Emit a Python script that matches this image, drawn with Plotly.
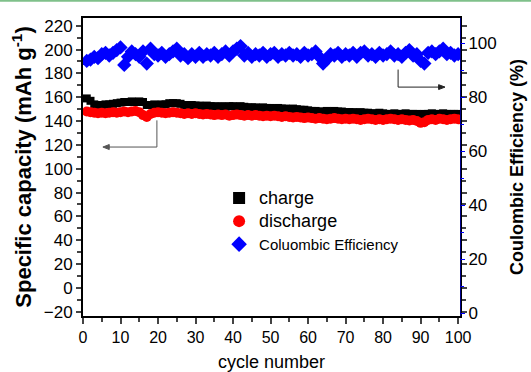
import plotly.graph_objects as go

cycles = list(range(1, 101))

charge = [159, 157, 154, 153.5, 153.5, 154, 154, 154.5, 155, 155.5,
          156, 156, 156.5, 156, 156.5, 156, 153.5, 153.5, 154, 153.5,
          154, 154, 155, 155, 155, 154.5, 153.5, 153, 153.5, 153,
          153, 152.5, 153, 152.5, 152.5, 152, 152.5, 152, 152.5, 152.5,
          152, 152.5, 152, 151.5, 151.5, 151.5, 151, 151.5, 151, 151,
          150.5, 151, 150.5, 150.5, 150, 150.5, 150, 149.5, 149.5, 149,
          148.5, 148.5, 148, 148, 148.5, 148, 148.5, 148, 148, 147.5,
          147.5, 147.5, 147, 147.5, 147, 147, 146.5, 146.5, 147, 146.5,
          146, 146, 146.5, 146, 146, 146.5, 146, 146, 146, 145.5,
          146, 146, 146.5, 146, 146, 146.5, 146, 146, 146, 146]

discharge = [148, 147.5, 147, 146.5, 147, 146.5, 147, 147.5, 147, 147.5,
             148, 147.5, 148, 148.5, 147.5, 145, 143.5, 146, 147, 147.5,
             147, 146.5, 147, 147.5, 147, 146.5, 146, 146.5, 146, 146.5,
             146, 145.5, 146, 145.5, 145, 145.5, 145, 145.5, 144.5, 145,
             145.5, 145, 144.5, 145, 144.5, 145, 144.5, 144, 144.5, 144,
             144.5, 144, 143.5, 144, 143.5, 143, 143.5, 143, 142.5, 143,
             142.5, 142, 142.5, 142, 141.5, 142, 142.5, 142, 141.5, 142,
             141.5, 142, 141.5, 141, 141.5, 142, 141.5, 141, 141.5, 141,
             141.5, 142, 141.5, 141, 141.5, 141, 140.5, 141, 140, 138.5,
             139, 141, 141.5, 141, 142, 141.5, 141, 141.5, 142, 141.5]

efficiency = [93.5, 94, 95, 94.5, 96, 96.5, 95.5, 96.5, 97.5, 98.5,
              92, 95, 97, 96, 95, 97, 92.5, 98, 96, 95.5,
              96.5, 95, 96, 97, 98, 95.5, 96, 94.5, 96, 95,
              96.5, 95, 96, 95.5, 96.5, 95, 96, 97, 95.5, 97,
              98, 99, 95.5, 96.5, 95, 96, 95.5, 96.5, 95, 96,
              96.5, 95, 96, 95.5, 96.5, 95.5, 96, 95, 96.5, 95.5,
              96, 97, 95, 92.5, 94, 96, 95.5, 96.5, 95, 96,
              95.5, 96.5, 95, 96.5, 97, 95.5, 96, 95, 96.5, 95.5,
              96, 97, 95.5, 96, 95, 96.5, 97.5, 95.5, 96, 93.5,
              92.5, 96.5, 97, 96, 97, 98, 96, 96.5, 95.5, 96]

left_ticks = list(range(-20, 221, 20))
right_ticks = list(range(0, 101, 20))
x_ticks = list(range(0, 101, 10))

FONT = "Arial, Liberation Sans, sans-serif"

fig = go.Figure()
fig.add_trace(go.Scatter(x=cycles, y=charge, mode="markers",
                         name="<span style='font-size:18px'>charge</span>",
                         marker=dict(symbol="square", size=8, color="#000000", line=dict(width=0))))
fig.add_trace(go.Scatter(x=cycles, y=discharge, mode="markers",
                         name="<span style='font-size:18px'>discharge</span>",
                         marker=dict(symbol="circle", size=10, color="#ff0000", line=dict(width=0))))
fig.add_trace(go.Scatter(x=cycles, y=efficiency, mode="markers", yaxis="y2",
                         name="<span style='font-size:15px'>Coluombic Efficiency</span>",
                         marker=dict(symbol="diamond", size=11, color="#0000ff", line=dict(width=0))))

fig.update_layout(
    width=531, height=372,
    margin=dict(l=83, r=71, t=18, b=56, autoexpand=False),
    paper_bgcolor="white", plot_bgcolor="white",
    font=dict(family=FONT, color="black"),
    showlegend=True,
    legend=dict(x=0.361, y=0.451, xanchor="left", yanchor="top",
                bgcolor="rgba(0,0,0,0)", font=dict(size=15.4, family=FONT),
                itemsizing="constant", tracegroupgap=0),
    xaxis=dict(range=[0, 100.5], tickvals=x_ticks, ticks="outside", ticklen=6, tickwidth=2,
               showline=True, linecolor="black", linewidth=2, mirror=True,
               showgrid=False, zeroline=False, tickfont=dict(size=16),
               minor=dict(dtick=5, tick0=0, ticks="outside", ticklen=4, tickwidth=2, showgrid=False),
               title=dict(text="cycle number", font=dict(size=18), standoff=14)),
    xaxis2=dict(range=[0, 100.5], overlaying="x", side="top", anchor="y", tickvals=list(range(0, 101, 5)),
                ticks="inside", ticklen=5, tickwidth=2, showticklabels=False, showline=False,
                showgrid=False, zeroline=False),
    yaxis=dict(range=[-23.6, 226.5], tickvals=left_ticks, ticks="outside", ticklen=5, tickwidth=2,
               showline=True, linecolor="black", linewidth=2, mirror="ticks",
               showgrid=False, zeroline=False, tickfont=dict(size=17),
               minor=dict(dtick=10, tick0=0, ticks="outside", ticklen=4, tickwidth=2, showgrid=False),
               title=dict(text="Specific capacity (mAh g<sup>-1</sup>)", font=dict(size=22, weight="bold"), standoff=6)),
    yaxis2=dict(range=[-1.0, 109.4], overlaying="y", side="right", anchor="x", tickvals=right_ticks,
                ticks="outside", ticklen=4, tickwidth=1, tickcolor="#0000ff",
                showline=True, linecolor="#00008b", linewidth=1,
                showgrid=False, zeroline=False, tickfont=dict(size=17),
                minor=dict(dtick=10, tick0=0, ticks="outside", ticklen=3, tickwidth=1, tickcolor="#0000ff"),
                title=dict(text="Coulombic Efficiency (%)", font=dict(size=18, weight="bold"), standoff=14)),
)

# guide arrows (left: capacity axis, right: efficiency axis)
fig.add_shape(type="path", xref="x", yref="y",
              path="M 19.7,140.6 L 19.7,118.2 L 6.5,118.2",
              line=dict(color="#555555", width=1))
fig.add_shape(type="path", xref="x", yref="y",
              path="M 5.3,118.2 L 7.0,120.3 L 7.0,116.1 Z",
              line=dict(color="#555555", width=1), fillcolor="#555555")
fig.add_shape(type="path", xref="x", yref="y2",
              path="M 84,90.3 L 84,83.8 L 95.3,83.8",
              line=dict(color="#222222", width=1))
fig.add_shape(type="path", xref="x", yref="y2",
              path="M 96.5,83.8 L 94.8,84.7 L 94.8,82.9 Z",
              line=dict(color="#222222", width=1), fillcolor="#222222")

# thin green border line at the top of the picture
fig.add_shape(type="line", xref="paper", yref="paper", x0=-0.23, x1=1.2,
              y0=1 + 17.2 / 298, y1=1 + 17.2 / 298, line=dict(color="#7fc08a", width=2))

fig.write_html("out.html", config={"displayModeBar": False},
               post_script="document.body.style.margin='0px';")
